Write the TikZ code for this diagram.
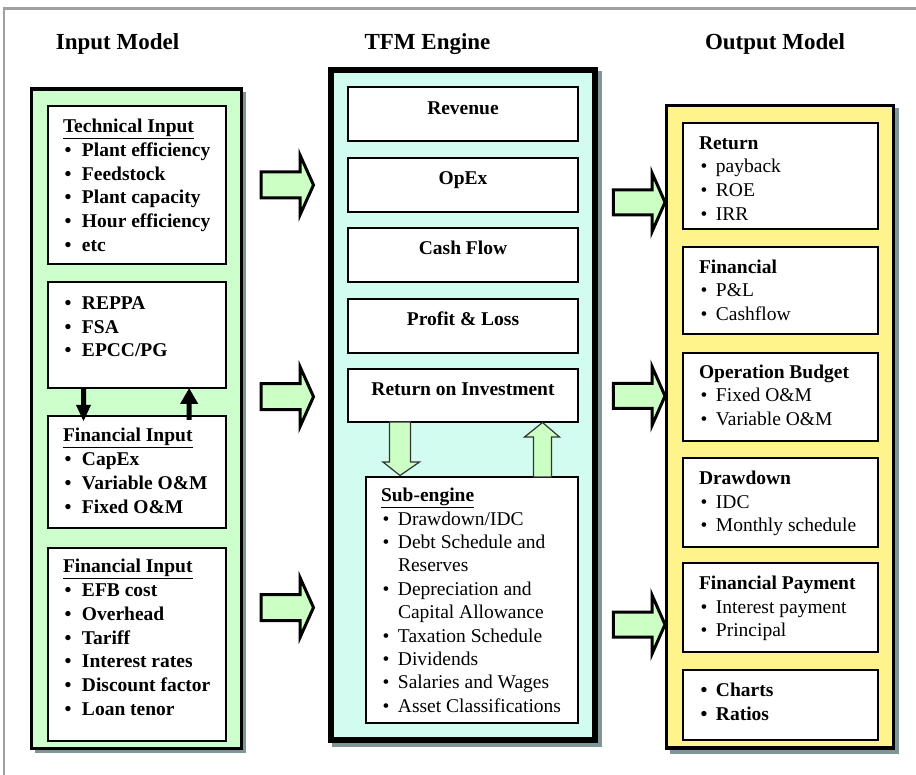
\documentclass[tikz,border=0pt]{standalone}
\usepackage{fontspec}
\setmainfont{Liberation Serif}
\definecolor{lgreen}{HTML}{CCFFCC}
\definecolor{lcyan}{HTML}{D2FCF0}
\definecolor{lyellow}{HTML}{FFF38C}
\definecolor{shad}{HTML}{7F9696}
\definecolor{agreen}{HTML}{CCFFC4}
\definecolor{frame}{HTML}{A0A0A0}
\newcommand\bl[1]{\makebox[17.4pt][l]{\textbullet}#1}
\newcommand\bm[1]{\makebox[15.4pt][l]{\textbullet}#1}
\tikzset{
  txt/.style={anchor=base west, inner sep=0pt, outer sep=0pt, font=\fontsize{19.5}{22}\selectfont},
  txtb/.style={anchor=base west, inner sep=0pt, outer sep=0pt, font=\fontsize{19.5}{22}\selectfont\bfseries},
  ctr/.style={anchor=base, inner sep=0pt, outer sep=0pt, font=\fontsize{19.5}{22}\selectfont\bfseries},
  ttl/.style={anchor=base, inner sep=0pt, outer sep=0pt, font=\fontsize{23}{26}\selectfont\bfseries},
  ibox/.style={draw=black, line width=1.5pt, fill=white, anchor=north west, inner sep=0pt, outer sep=0pt},
  colbox/.style={draw=black, anchor=north west, inner sep=0pt, outer sep=0pt},
  shbox/.style={fill=shad, draw=none, anchor=north west, inner sep=0pt, outer sep=0pt},
  bigarrow/.style={draw=black, line width=3pt, fill=agreen, line join=miter},
  smallarrow/.style={draw=black!80, line width=1.2pt, fill=agreen, line join=miter},
  blackarrow/.style={fill=black, draw=none}
}
\begin{document}
\begin{tikzpicture}[x=1pt,y=-1pt]
\useasboundingbox (0,0) rectangle (916,775);
\fill[white] (0,0) rectangle (916,775);
% frame
\draw[frame, line width=2.5pt] (4,775) -- (4,8.5) -- (916,8.5);

% titles
\node[ttl] (tin) at (117.5,49.3) {Input Model};
\node[ttl] (teng) at (427.5,49.3) {TFM Engine};
\node[ttl] (tout) at (775,49.3) {Output Model};

% ---------- column containers ----------
\node[shbox, minimum width=211.5pt, minimum height=661pt] (lsh) at (34.5,92) {};
\node[colbox, fill=lgreen, line width=3.5pt, minimum width=209.8pt, minimum height=659.3pt] (lcol) at (31.7,89) {};
\node[shbox, minimum width=270pt, minimum height=676pt] (msh) at (332,71) {};
\node[colbox, fill=lcyan, line width=6pt, minimum width=264pt, minimum height=670pt] (mcol) at (331,70) {};
\node[shbox, minimum width=229pt, minimum height=645pt] (rsh) at (669.5,108.5) {};
\node[colbox, fill=lyellow, line width=3.5pt, minimum width=226.8pt, minimum height=642.3pt] (rcol) at (666.7,105.7) {};

% ---------- left inner boxes ----------
\node[ibox, minimum width=178pt, minimum height=158pt] (tech) at (48,106) {};
\node[ibox, minimum width=178pt, minimum height=106pt] (repp) at (48,282) {};
\node[ibox, minimum width=178pt, minimum height=112pt] (fin1) at (48,416) {};
\node[ibox, minimum width=178pt, minimum height=193pt] (fin2) at (48,548) {};

% black arrows between boxes
\coordinate (dA) at (83.5,388);
\coordinate (uA) at (189.2,420);
\fill[blackarrow] (81,388) -- (86,388) -- (86,405) -- (91,405) -- (83.5,421) -- (76,405) -- (81,405) -- cycle;
\fill[blackarrow] (186.7,420) -- (191.7,420) -- (191.7,404) -- (198.3,404) -- (189.2,388.3) -- (180,404) -- (186.7,404) -- cycle;

% left texts
\node[txtb] (t1h) at (63,132.5) {\underline{Technical Input}};
\node[txtb] (t1a) at (64.6,156.3) {\bl{Plant efficiency}};
\node[txtb] (t1b) at (64.6,180.1) {\bl{Feedstock}};
\node[txtb] (t1c) at (64.6,203.9) {\bl{Plant capacity}};
\node[txtb] (t1d) at (64.6,227.7) {\bl{Hour efficiency}};
\node[txtb] (t1e) at (64.6,251.5) {\bl{etc}};

\node[txtb] (t2a) at (64.6,309.3) {\bl{REPPA}};
\node[txtb] (t2b) at (64.6,333.1) {\bl{FSA}};
\node[txtb] (t2c) at (64.6,356.9) {\bl{EPCC/PG}};

\node[txtb] (t3h) at (63,441.7) {\underline{Financial Input}};
\node[txtb] (t3a) at (64.6,465.5) {\bl{CapEx}};
\node[txtb] (t3b) at (64.6,489.3) {\bl{Variable O\&M}};
\node[txtb] (t3c) at (64.6,513.1) {\bl{Fixed O\&M}};

\node[txtb] (t4h) at (63,572.7) {\underline{Financial Input}};
\node[txtb] (t4a) at (64.6,596.5) {\bl{EFB cost}};
\node[txtb] (t4b) at (64.6,620.3) {\bl{Overhead}};
\node[txtb] (t4c) at (64.6,644.1) {\bl{Tariff}};
\node[txtb] (t4d) at (64.6,667.9) {\bl{Interest rates}};
\node[txtb] (t4e) at (64.6,691.7) {\bl{Discount factor}};
\node[txtb] (t4f) at (64.6,715.5) {\bl{Loan tenor}};

% ---------- middle inner boxes ----------
\node[ibox, minimum width=230pt, minimum height=54pt] (rev) at (348,87) {};
\node[ibox, minimum width=230pt, minimum height=54pt] (opex) at (348,158) {};
\node[ibox, minimum width=230pt, minimum height=54pt] (cash) at (348,228) {};
\node[ibox, minimum width=230pt, minimum height=54pt] (pl) at (348,299) {};
\node[ibox, minimum width=230pt, minimum height=53pt] (roi) at (348,369) {};
\node[ibox, minimum width=212pt, minimum height=246pt] (sub) at (366,477) {};

\node[ctr] (revt) at (463,114.3) {Revenue};
\node[ctr] (opext) at (463,185) {OpEx};
\node[ctr] (casht) at (463,255) {Cash Flow};
\node[ctr] (plt) at (463,326) {Profit \& Loss};
\node[ctr] (roit) at (463,395.7) {Return on Investment};

% small arrows roi <-> sub
\draw[smallarrow] (389.5,422) -- (410.5,422) -- (410.5,462) -- (419.5,462) -- (400,475.5) -- (383,462) -- (389.5,462) -- cycle;
\draw[smallarrow] (533.5,477) -- (551.5,477) -- (551.5,437) -- (559.5,437) -- (542.5,422.5) -- (524.5,437) -- (533.5,437) -- cycle;

\node[txtb] (sh) at (381,501.7) {\underline{Sub-engine}};
\node[txt] (sa) at (382.6,525) {\bm{Drawdown/IDC}};
\node[txt] (sb) at (382.6,548.4) {\bm{Debt Schedule and}};
\node[txt] (sb2) at (398,571.8) {Reserves};
\node[txt] (sc) at (382.6,595.2) {\bm{Depreciation and}};
\node[txt] (sc2) at (398,618.6) {Capital Allowance};
\node[txt] (sd) at (382.6,642) {\bm{Taxation Schedule}};
\node[txt] (se) at (382.6,665.4) {\bm{Dividends}};
\node[txt] (sf) at (382.6,688.8) {\bm{Salaries and Wages}};
\node[txt] (sg) at (382.6,712.2) {\bm{Asset Classifications}};

% ---------- right inner boxes ----------
\node[ibox, minimum width=195pt, minimum height=106pt] (ret) at (683,123) {};
\node[ibox, minimum width=195pt, minimum height=87pt] (fin) at (683,247) {};
\node[ibox, minimum width=195pt, minimum height=88pt] (opb) at (683,353) {};
\node[ibox, minimum width=195pt, minimum height=89pt] (drw) at (683,458) {};
\node[ibox, minimum width=195pt, minimum height=89pt] (pay) at (683,563) {};
\node[ibox, minimum width=195pt, minimum height=70pt] (cht) at (683,670) {};

\node[txtb] (r1h) at (699,149.3) {Return};
\node[txt] (r1a) at (700.6,173) {\bm{payback}};
\node[txt] (r1b) at (700.6,196.7) {\bm{ROE}};
\node[txt] (r1c) at (700.6,220.4) {\bm{IRR}};

\node[txtb] (r2h) at (699,273.3) {Financial};
\node[txt] (r2a) at (700.6,296.8) {\bm{P\&L}};
\node[txt] (r2b) at (700.6,320.3) {\bm{Cashflow}};

\node[txtb] (r3h) at (699,379) {Operation Budget};
\node[txt] (r3a) at (700.6,401.5) {\bm{Fixed O\&M}};
\node[txt] (r3b) at (700.6,425.5) {\bm{Variable O\&M}};

\node[txtb] (r4h) at (699,484) {Drawdown};
\node[txt] (r4a) at (700.6,508.3) {\bm{IDC}};
\node[txt] (r4b) at (700.6,531.7) {\bm{Monthly schedule}};

\node[txtb] (r5h) at (699,589.3) {Financial Payment};
\node[txt] (r5a) at (700.6,613.3) {\bm{Interest payment}};
\node[txt] (r5b) at (700.6,636.7) {\bm{Principal}};

\node[txtb] (r6a) at (700.6,696.7) {\bm{Charts}};
\node[txtb] (r6b) at (700.6,720.7) {\bm{Ratios}};

% ---------- big arrows: input -> engine ----------
\foreach \cy in {185,396.7,607.5} {
  \draw[bigarrow] (261,\cy-13) -- (300,\cy-13) -- (300,\cy-30) -- (313.5,\cy) -- (300,\cy+30) -- (300,\cy+13) -- (261,\cy+13) -- cycle;
}
% ---------- big arrows: engine -> output ----------
\foreach \cy in {202.3,396,624.5} {
  \draw[bigarrow] (613.3,\cy-12.5) -- (652,\cy-12.5) -- (652,\cy-29.5) -- (665,\cy) -- (652,\cy+29.5) -- (652,\cy+12.5) -- (613.3,\cy+12.5) -- cycle;
}
\end{tikzpicture}
\end{document}
